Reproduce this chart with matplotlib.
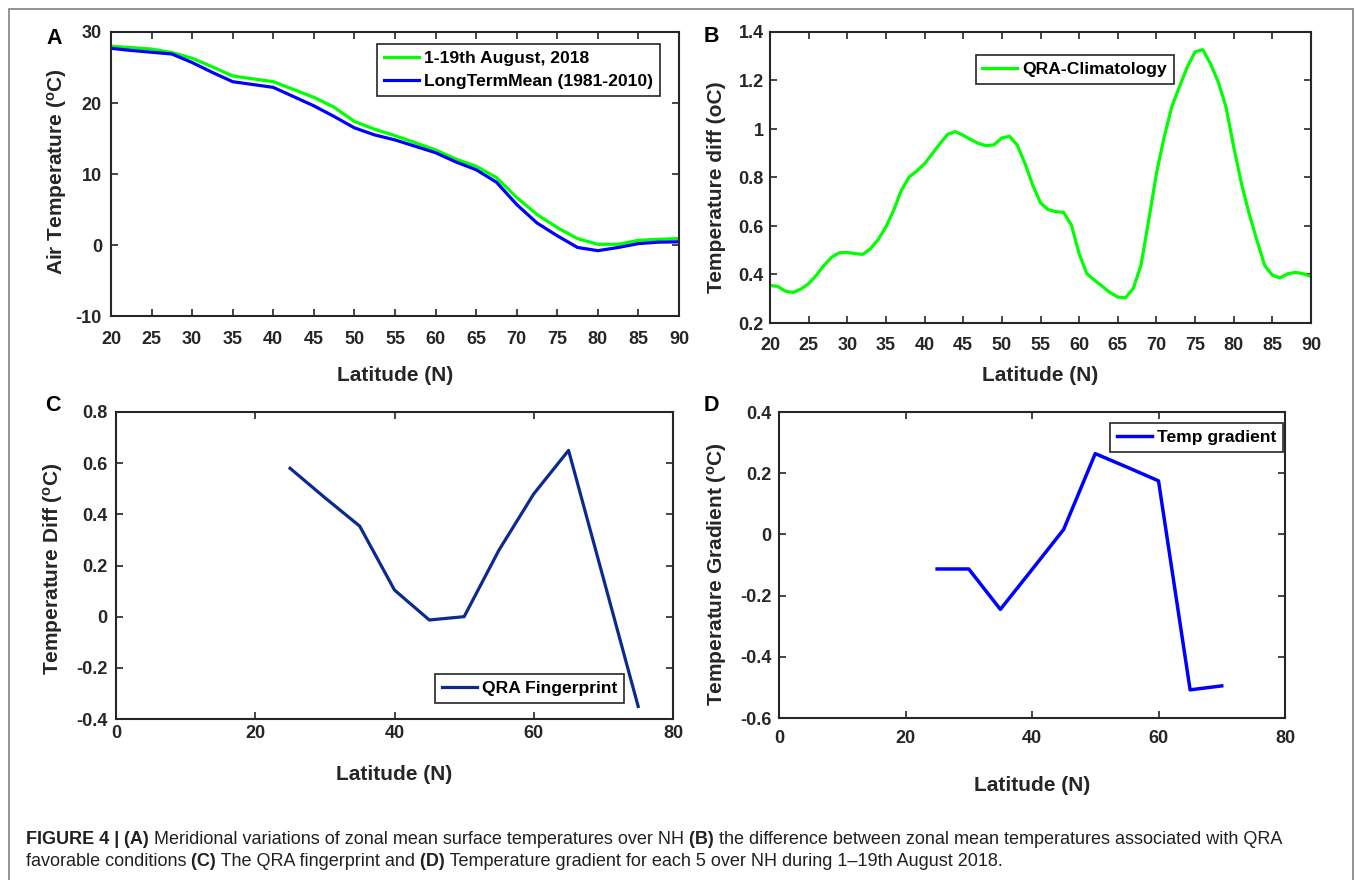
import matplotlib
matplotlib.use("Agg")
import matplotlib.pyplot as plt
from matplotlib.patches import Rectangle

plt.rcParams['font.family'] = ['Liberation Sans', 'DejaVu Sans']
plt.rcParams['mathtext.default'] = 'regular'

# パネルA: 緯度ごとの気温
lat_a = [20, 22.5, 25, 27.5, 30, 32.5, 35, 37.5, 40, 42.5, 45, 47.5, 50, 52.5,
         55, 57.5, 60, 62.5, 65, 67.5, 70, 72.5, 75, 77.5, 80, 82.5, 85, 87.5, 90]
temp_2018 = [28.0, 27.8, 27.6, 27.1, 26.3, 25.1, 23.8, 23.4, 23.0, 21.9, 20.8, 19.4,
             17.4, 16.3, 15.4, 14.4, 13.4, 12.1, 11.1, 9.5, 6.7, 4.3, 2.45, 0.9,
             0.1, 0.1, 0.66, 0.8, 0.9]
temp_ltm = [27.7, 27.4, 27.15, 26.9, 25.7, 24.3, 23.0, 22.6, 22.2, 20.9, 19.6, 18.1,
            16.5, 15.5, 14.8, 13.9, 13.0, 11.7, 10.6, 8.85, 5.7, 3.1, 1.3, -0.35,
            -0.8, -0.35, 0.2, 0.4, 0.45]

# パネルB: QRA - 気候値
lat_b = list(range(20, 91))
qra_clim = [0.355, 0.351, 0.331, 0.326, 0.340, 0.362, 0.397, 0.438, 0.472, 0.490,
            0.491, 0.486, 0.483, 0.506, 0.544, 0.596, 0.665, 0.747, 0.802, 0.827,
            0.857, 0.898, 0.940, 0.978, 0.989, 0.974, 0.956, 0.940, 0.931, 0.935,
            0.963, 0.970, 0.933, 0.857, 0.768, 0.696, 0.667, 0.659, 0.656, 0.603,
            0.486, 0.403, 0.376, 0.351, 0.325, 0.307, 0.304, 0.342, 0.438, 0.623,
            0.816, 0.967, 1.093, 1.176, 1.256, 1.318, 1.327, 1.269, 1.194, 1.091,
            0.926, 0.775, 0.651, 0.541, 0.438, 0.397, 0.386, 0.403, 0.409, 0.403,
            0.392]

# パネルC: QRA fingerprint
lat_c = [25, 30, 35, 40, 45, 50, 55, 60, 65, 70, 75]
qra_fp = [0.58, 0.465, 0.354, 0.104, -0.013, 0.0, 0.26, 0.48, 0.65, 0.15, -0.351]

# パネルD: 温度勾配
lat_d = [25, 30, 35, 40, 45, 50, 55, 60, 65, 70]
temp_grad = [-0.113, -0.113, -0.245, -0.115, 0.016, 0.264, 0.22, 0.175, -0.508, -0.495]

# 目盛りラベル
xt_ab = [20, 25, 30, 35, 40, 45, 50, 55, 60, 65, 70, 75, 80, 85, 90]
xt_cd = [0, 20, 40, 60, 80]
yt_a = [-10, 0, 10, 20, 30]
ytl_a = ['-10', '0', '10', '20', '30']
yt_b = [0.2, 0.4, 0.6, 0.8, 1.0, 1.2, 1.4]
ytl_b = ['0.2', '0.4', '0.6', '0.8', '1', '1.2', '1.4']
yt_c = [-0.4, -0.2, 0, 0.2, 0.4, 0.6, 0.8]
ytl_c = ['-0.4', '-0.2', '0', '0.2', '0.4', '0.6', '0.8']
yt_d = [-0.6, -0.4, -0.2, 0, 0.2, 0.4]
ytl_d = ['-0.6', '-0.4', '-0.2', '0', '0.2', '0.4']

W, H = 1355, 880
dark = '#262626'
fig = plt.figure(figsize=(W / 100, H / 100), dpi=100)


def make_axes(l, t, r, b):
    # ピクセル座標から軸を作る
    return fig.add_axes([l / W, 1 - b / H, (r - l) / W, (b - t) / H])


def style(ax, xt, yt, ytl, xpad, ypad):
    ax.set_xticks(xt)
    ax.set_xticklabels([str(v) for v in xt])
    ax.set_yticks(yt)
    ax.set_yticklabels(ytl)
    for s in ax.spines.values():
        s.set_color(dark)
        s.set_linewidth(1.5)
    ax.tick_params(direction='in', length=5, width=1.2, top=True, right=True,
                   colors=dark, labelsize=13)
    ax.tick_params(axis='x', pad=xpad)
    ax.tick_params(axis='y', pad=ypad)
    for lab in ax.get_xticklabels() + ax.get_yticklabels():
        lab.set_fontweight('bold')


def labels(ax, xl, yl, xly, ylx, yly):
    ax.set_xlabel(xl, fontsize=15, fontweight='bold', color=dark)
    ax.set_ylabel(yl, fontsize=15, fontweight='bold', color=dark)
    ax.xaxis.set_label_coords(0.5, xly)
    ax.yaxis.set_label_coords(ylx, yly)
    ax.xaxis.label.set_va('center')
    ax.yaxis.label.set_va('center')


def legend(ax, loc, anchor):
    leg = ax.legend(loc=loc, bbox_to_anchor=anchor, borderaxespad=0,
                    fancybox=False, framealpha=1, edgecolor=dark,
                    prop={'weight': 'bold', 'size': 12.6}, handlelength=2.0,
                    handletextpad=0.3, borderpad=0.38, labelspacing=0.45)
    leg.get_frame().set_linewidth(1.2)
    return leg


# A
ax1 = make_axes(111, 32, 679, 316)
ax1.plot(lat_a, temp_2018, color='#00ff00', lw=2.3, label='1-19th August, 2018')
ax1.plot(lat_a, temp_ltm, color='#0000ff', lw=2.3, label='LongTermMean (1981-2010)')
ax1.set_xlim(20, 90)
ax1.set_ylim(-10, 30)
style(ax1, xt_ab, yt_a, ytl_a, 10.8, 6.5)
labels(ax1, 'Latitude (N)', r'Air Temperature ($^o$C)', -0.208, -0.095, 0.507)
legend(ax1, 'upper right', (0.9665, 0.9577))

# B
ax2 = make_axes(770, 32, 1311, 323)
ax2.plot(lat_b, qra_clim, color='#00ff00', lw=2.3, label='QRA-Climatology')
ax2.set_xlim(20, 90)
ax2.set_ylim(0.2, 1.4)
style(ax2, xt_ab, yt_b, ytl_b, 10.3, 4.5)
labels(ax2, 'Latitude (N)', 'Temperature diff (oC)', -0.179, -0.098, 0.466)
legend(ax2, 'upper right', (0.747, 0.921))

# C
ax3 = make_axes(116, 412, 673, 719)
ax3.plot(lat_c, qra_fp, color='#0b2a8e', lw=2.3, label='QRA Fingerprint')
ax3.set_xlim(0, 80)
ax3.set_ylim(-0.4, 0.8)
style(ax3, xt_cd, yt_c, ytl_c, 4.5, 6)
labels(ax3, 'Latitude (N)', r'Temperature Diff ($^o$C)', -0.182, -0.113, 0.489)
legend(ax3, 'lower right', (0.912, 0.052))

# D
ax4 = make_axes(779, 412, 1285, 718)
ax4.plot(lat_d, temp_grad, color='#0000ff', lw=2.5, label='Temp gradient')
ax4.set_xlim(0, 80)
ax4.set_ylim(-0.6, 0.4)
style(ax4, xt_cd, yt_d, ytl_d, 8.8, 5.2)
labels(ax4, 'Latitude (N)', r'Temperature Gradient ($^o$C)', -0.219, -0.1225, 0.471)
legend(ax4, 'upper right', (0.996, 0.964))

# パネルの文字
for letter, px, py in [('A', 54, 38), ('B', 711, 37), ('C', 53, 405), ('D', 711, 405)]:
    fig.text(px / W, 1 - py / H, letter, fontsize=15.5, fontweight='bold',
             color='black', ha='center', va='center')

# 外枠
fig.add_artist(Rectangle((9 / W, -0.05), (1353 - 9) / W, 1.05 - 9 / H,
                         transform=fig.transFigure, fill=False,
                         edgecolor='#808080', lw=1.2))

# キャプション
bg = fig.add_axes([0, 0, 1, 1], zorder=-1)
bg.axis('off')
cap_color = '#231f20'
line1 = [('FIGURE 4 |', True), (' (A)', True),
         (' Meridional variations of zonal mean surface temperatures over NH', False),
         (' (B)', True),
         (' the difference between zonal mean temperatures associated with QRA', False)]
line2 = [('favorable conditions', False), (' (C)', True),
         (' The QRA fingerprint and', False), (' (D)', True),
         (' Temperature gradient for each 5 over NH during 1\u201319th August 2018.', False)]


def caption_line(parts, x, y, size):
    prev = None
    out = []
    for s, b in parts:
        w = 'bold' if b else 'normal'
        if prev is None:
            t = bg.text(x / W, 1 - y / H, s, fontsize=size, fontweight=w,
                        ha='left', va='baseline', color=cap_color,
                        transform=fig.transFigure)
        else:
            t = bg.annotate(s, xy=(1, 0), xycoords=prev, fontsize=size,
                            fontweight=w, ha='left', va='bottom', color=cap_color)
        out.append(t)
        prev = t
    return out


size0 = 11
t1 = caption_line(line1, 26, 844, size0)
t2 = caption_line(line2, 26, 866, size0)
fig.canvas.draw()
r = fig.canvas.get_renderer()
width = t1[-1].get_window_extent(r).x1 - t1[0].get_window_extent(r).x0
scale = (1280 - 26) / width
for t in t1 + t2:
    t.set_fontsize(size0 * scale)

plt.savefig('out.png', dpi=100)
